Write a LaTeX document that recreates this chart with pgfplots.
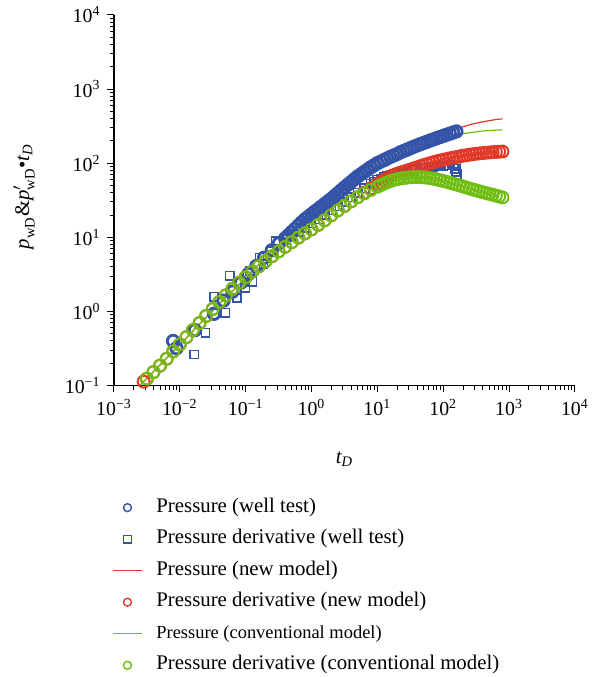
\documentclass[border=0pt]{standalone}
\usepackage{amsmath}
\usepackage{fontspec}
\setmainfont{Liberation Serif}
\usepackage{pgfplots}
\pgfplotsset{compat=1.18}

\definecolor{wblue}{RGB}{52,84,170}
\definecolor{mred}{RGB}{226,56,40}
\definecolor{cgreen}{RGB}{112,190,20}

% well test, pressure
\pgfplotstableread{
t p
0.0079 0.40
0.0089 0.32
0.017 0.56
0.033 0.93
0.046 1.40
0.063 1.85
0.085 2.45
0.11 3.2
0.145 4.1
0.19 5.3
0.25 6.7
0.32 8.3
0.398 9.7
0.447 10.7
0.501 11.8
0.562 13.0
0.631 14.4
0.708 15.9
0.794 17.5
0.891 18.9
1.000 20.5
1.122 22.2
1.259 24.0
1.413 26.0
1.585 28.2
1.778 30.5
1.995 33.0
2.239 36.1
2.512 39.4
2.818 43.0
3.162 47.0
3.548 51.2
3.981 55.7
4.467 60.7
5.012 66.1
5.623 71.0
6.310 76.2
7.079 81.8
7.943 87.9
8.913 93.8
10.00 100
11.22 105
12.59 110
14.13 116
15.85 122
17.78 127
19.95 133
22.39 140
25.12 146
28.18 152
31.62 159
35.48 166
39.81 173
44.67 180
50.12 187
56.23 194
63.10 202
70.79 209
79.43 217
89.13 225
100.0 233
112.2 242
125.9 250
141.3 259
158.5 268
}\wellp

% well test, pressure derivative
\pgfplotstableread{
t p
0.0166 0.263
0.0245 0.514
0.033 1.58
0.049 0.964
0.057 3.03
0.074 1.52
0.098 2.07
0.114 3.53
0.126 2.51
0.162 5.35
0.187 4.35
0.241 6.55
0.287 8.9
0.398 9.4
0.501 10.5
0.631 11.9
0.794 13.5
1.000 15.4
1.259 17.5
1.585 20.1
1.995 23.0
2.512 26.3
3.162 30.0
3.981 34.7
5.012 40.0
6.310 46.0
7.943 53.0
8.913 56.4
10.00 60.0
11.22 62.3
12.59 64.8
14.13 67.3
15.85 70.0
17.78 71.7
19.95 73.4
22.39 75.2
25.12 77.0
28.18 78.4
31.62 79.9
35.48 81.5
39.81 83.0
44.67 84.2
50.12 85.4
56.23 86.7
63.10 88.0
70.79 89.0
79.43 90.0
89.13 91.0
100.0 92.0
112.2 92.8
125.9 93.5
141.3 94.3
158.5 95.0
150 84
155 76
160 71
}\welld

% new model, pressure
\pgfplotstableread{
t p
0.00224 0.093
0.00316 0.125
0.00501 0.19
0.00794 0.29
0.0126 0.44
0.0200 0.68
0.0316 1.03
0.0501 1.55
0.0794 2.3
0.126 3.5
0.200 5.3
0.316 7.9
0.501 11.8
0.794 17.5
1.259 24
1.995 33
3.162 47
5.012 66
7.943 88
10.0 100
15.85 123
25.12 148
39.81 178
63.10 210
100.0 245
158.5 290
251.2 330
398.1 362
631.0 388
794.3 397
}\newp

% conventional model, pressure
\pgfplotstableread{
t p
0.00224 0.093
0.00316 0.125
0.00501 0.19
0.00794 0.29
0.0126 0.44
0.0200 0.68
0.0316 1.03
0.0501 1.55
0.0794 2.3
0.126 3.5
0.200 5.3
0.316 7.9
0.501 11.8
0.794 17.5
1.259 24
1.995 33
3.162 47
5.012 66
7.943 87
10.0 98
15.85 118
25.12 136
39.81 158
63.10 185
100.0 212
158.5 243
251.2 258
398.1 272
631.0 279
794.3 282
}\convp

% new model, pressure derivative
\pgfplotstableread{
t p
0.00224 0.092
0.00282 0.113
0.00316 0.124
0.00398 0.152
0.00501 0.186
0.00631 0.23
0.00794 0.29
0.0100 0.36
0.0126 0.45
0.0158 0.56
0.0200 0.70
0.0251 0.87
0.0316 1.08
0.0398 1.34
0.0501 1.65
0.0631 2.02
0.0794 2.44
0.100 2.90
0.126 3.45
0.158 4.05
0.200 4.75
0.251 5.55
0.316 6.45
0.398 7.45
0.501 8.6
0.631 9.9
0.794 11.3
1.000 12.8
1.259 14.7
1.585 17.0
1.995 19.8
2.512 23.0
3.162 26.5
3.981 30.5
5.012 34.7
6.310 40.0
7.943 45.5
10.00 52.0
11.22 55.5
12.59 59.0
14.13 62.5
15.85 66.0
17.78 69.0
19.95 72.0
22.39 74.5
25.12 77.0
28.18 79.5
31.62 82.0
35.48 85.0
39.81 88.0
44.67 91.0
50.12 94.0
56.23 97.0
63.10 100
70.79 103
79.43 106
89.13 108.5
100.0 111
112.2 113.5
125.9 116
141.3 118.5
158.5 121
177.8 123.5
199.5 126
223.9 128
251.2 130
281.8 132
316.2 134
354.8 135.5
398.1 137
446.7 138.3
501.2 139.5
562.3 140.7
631.0 141.8
707.9 142.8
794.3 143.5
}\newd

% conventional model, pressure derivative
\pgfplotstableread{
t p
0.00316 0.124
0.00398 0.152
0.00501 0.186
0.00631 0.23
0.00794 0.29
0.0100 0.36
0.0126 0.45
0.0158 0.56
0.0200 0.70
0.0251 0.87
0.0316 1.08
0.0398 1.34
0.0501 1.65
0.0631 2.02
0.0794 2.44
0.100 2.90
0.126 3.45
0.158 4.05
0.200 4.75
0.251 5.55
0.316 6.45
0.398 7.45
0.501 8.6
0.631 9.9
0.794 11.3
1.000 12.8
1.259 14.7
1.585 17.0
1.995 19.8
2.512 23.0
3.162 26.5
3.981 30.5
5.012 34.7
6.310 39.0
7.943 43.5
10.00 48.0
11.22 50.5
12.59 53.0
14.13 55.3
15.85 57.5
17.78 59.3
19.95 61.0
22.39 62.0
25.12 63.0
28.18 63.8
31.62 64.5
35.48 64.8
39.81 65.0
44.67 64.8
50.12 64.5
56.23 63.8
63.10 63.0
70.79 61.8
79.43 60.5
89.13 59.0
100.0 57.5
112.2 56.0
125.9 54.5
141.3 53.0
158.5 51.5
177.8 50.0
199.5 48.5
223.9 47.0
251.2 45.5
281.8 44.2
316.2 43.0
354.8 41.7
398.1 40.5
446.7 39.5
501.2 38.5
562.3 37.5
631.0 36.5
707.9 35.5
794.3 34.5
}\convd

\begin{document}
\begin{tikzpicture}
\begin{axis}[
    scale only axis,
    width=232.5pt, height=187pt,
    xmode=log, ymode=log,
    log basis x=10, log basis y=10,
    xmin=1e-3, xmax=1e4,
    ymin=1e-1, ymax=1e4,
    axis x line*=bottom, axis y line*=left,
    axis line style={line width=0.6pt},
    tick align=outside,
    major tick length=3.3pt, minor tick length=2pt,
    tick style={line width=0.5pt, black},
    xtick={1e-3,1e-2,1e-1,1,1e1,1e2,1e3,1e4},
    ytick={1e-1,1,1e1,1e2,1e3,1e4},
    minor xtick={0.002,0.003,0.004,0.005,0.006,0.007,0.008,0.009,
        0.02,0.03,0.04,0.05,0.06,0.07,0.08,0.09,
        0.2,0.3,0.4,0.5,0.6,0.7,0.8,0.9,
        2,3,4,5,6,7,8,9,
        20,30,40,50,60,70,80,90,
        200,300,400,500,600,700,800,900,
        2000,3000,4000,5000,6000,7000,8000,9000},
    minor ytick={0.2,0.3,0.4,0.5,0.6,0.7,0.8,0.9,
        2,3,4,5,6,7,8,9,
        20,30,40,50,60,70,80,90,
        200,300,400,500,600,700,800,900,
        2000,3000,4000,5000,6000,7000,8000,9000},
    xticklabel={10\textsuperscript{\pgfmathtruncatemacro\e{round(\tick)}\ifnum\e<0 −\the\numexpr-\e\relax\else\e\fi}},
    yticklabel={10\textsuperscript{\pgfmathtruncatemacro\e{round(\tick)}\ifnum\e<0 −\the\numexpr-\e\relax\else\e\fi}},
    tick label style={font=\fontsize{10}{11}\selectfont},
    xlabel={$\textit{t}_{\textit{D}}$},
    ylabel={$\textit{p}_{\textrm{wD}}$\&$\textit{p}'_{\textrm{wD}}\mbox{\textbullet}\textit{t}_{\textit{D}}$},
    label style={font=\fontsize{10.5}{12}\selectfont},
    xlabel style={at={(axis description cs:0.5,-0.198)}, anchor=center},
    ylabel style={at={(axis description cs:-0.195,0.51)}, anchor=center},
    legend cell align=left,
    legend image code/.code={\draw[mark repeat=2,mark phase=2,#1] plot coordinates {(0pt,0pt) (7.25pt,0pt) (14.5pt,0pt)};},
    legend image post style={mark size=2pt, line width=0.7pt},
    legend style={
        draw=none, fill=none,
        at={(-0.0043,-0.300)}, anchor=north west,
        inner sep=0pt, row sep=5.4pt,
        font=\fontsize{10.5}{12}\selectfont,
        nodes={inner xsep=7pt, inner ysep=0.5pt, text height=7pt, text depth=2.5pt},
    },
]
\addplot[only marks, mark=o, mark size=2.9pt, wblue, line width=1.4pt] table {\wellp};
\addlegendentry{Pressure (well test)}
\addplot[only marks, mark=square, mark size=2.1pt, color=wblue, mark options={draw=wblue}, line width=0.75pt] table {\welld};
\addlegendentry{Pressure derivative (well test)}
\addplot[no marks, mred, line width=0.6pt] table {\newp};
\addlegendentry{Pressure (new model)}
\addplot[only marks, mark=o, mark size=3pt, mred, line width=1pt] table {\newd};
\addlegendentry{Pressure derivative (new model)}
\addplot[no marks, color=cgreen, line width=0.6pt] table {\convp};
\addlegendentry{{\fontsize{9.3}{11}\selectfont Pressure (conventional model)}}
\addplot[only marks, mark=o, mark size=3pt, cgreen, line width=1pt] table {\convd};
\addlegendentry{Pressure derivative (conventional model)}
\coordinate (bbsw) at (rel axis cs:-0.2473,-0.786);
\coordinate (bbne) at (rel axis cs:1.0774,1.0241);
\end{axis}
\path (bbsw) rectangle (bbne);
\end{tikzpicture}
\end{document}
